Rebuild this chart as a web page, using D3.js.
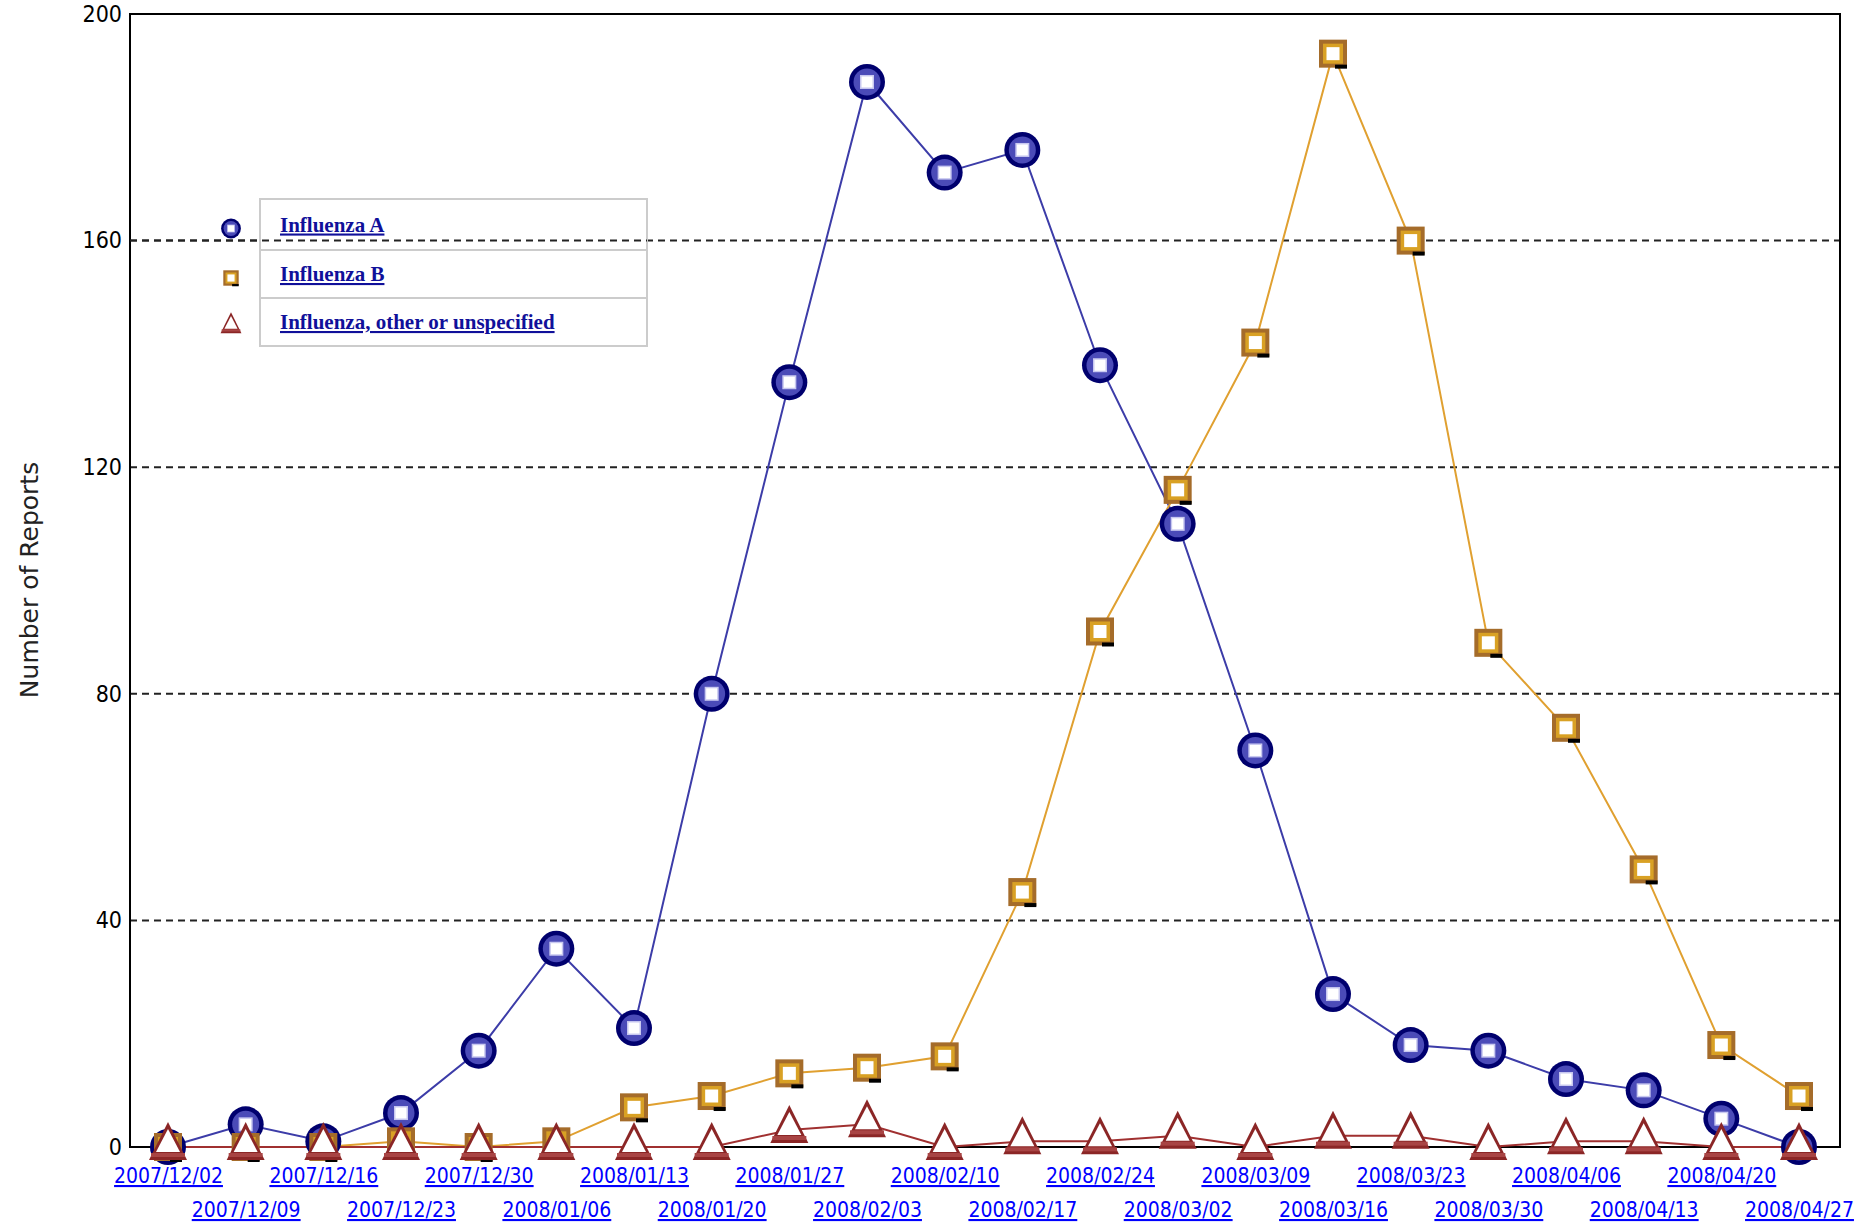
<!DOCTYPE html>
<html>
<head>
<meta charset="utf-8">
<script src="https://cdn.jsdelivr.net/npm/d3@7"></script>
<style>
  body { margin: 0; background: #fff; }
  .tick-y { font-family: "Liberation Sans Narrow", "DejaVu Sans Condensed", "DejaVu Sans", sans-serif; font-size: 23px; fill: #000; }
  .tick-x { font-family: "DejaVu Sans Condensed", "DejaVu Sans", sans-serif; font-size: 21px; fill: #0000ff; text-decoration: underline; }
  .axis-label { font-family: "DejaVu Sans", sans-serif; font-size: 25px; fill: #222; }
  .legend-text { font-family: "Liberation Serif", serif; font-weight: bold; font-size: 21px; fill: #10109a; text-decoration: underline; }
</style>
</head>
<body>
<svg id="chart"></svg>
<script>
const weeks = ['2007/12/02','2007/12/09','2007/12/16','2007/12/23','2007/12/30','2008/01/06','2008/01/13',
  '2008/01/20','2008/01/27','2008/02/03','2008/02/10','2008/02/17','2008/02/24','2008/03/02','2008/03/09',
  '2008/03/16','2008/03/23','2008/03/30','2008/04/06','2008/04/13','2008/04/20','2008/04/27'];

const fluA = [0, 4, 1, 6, 17, 35, 21, 80, 135, 188, 172, 176, 138, 110, 70, 27, 18, 17, 12, 10, 5, 0];
const fluB = [0, 0, 0, 1, 0, 1, 7, 9, 13, 14, 16, 45, 91, 116, 142, 193, 160, 89, 74, 49, 18, 9];
const fluOther = [0, 0, 0, 0, 0, 0, 0, 0, 3, 4, 0, 1, 1, 2, 0, 2, 2, 0, 1, 1, 0, 0];

const seriesNames = ['Influenza A', 'Influenza B', 'Influenza, other or unspecified'];
const yTicks = [0, 40, 80, 120, 160, 200];
const gridTicks = [40, 80, 120, 160];

const W = 1854, H = 1223;
const plot = {left: 130, top: 14, right: 1840, bottom: 1147};

const svg = d3.select('#chart').attr('width', W).attr('height', H);

const x = d3.scalePoint().domain(weeks).range([168, 1799]);
const y = d3.scaleLinear().domain([0, 200]).range([plot.bottom, plot.top]);

// grid lines
svg.append('g')
    .selectAll('line')
    .data(gridTicks)
    .enter()
    .append('line')
    .attr('x1', plot.left)
    .attr('x2', plot.right)
    .attr('y1', d => y(d))
    .attr('y2', d => y(d))
    .attr('stroke', '#222')
    .attr('stroke-width', 2)
    .attr('stroke-dasharray', '7,5');

// frame
svg.append('rect')
    .attr('x', plot.left)
    .attr('y', plot.top)
    .attr('width', plot.right - plot.left)
    .attr('height', plot.bottom - plot.top)
    .attr('fill', 'none')
    .attr('stroke', '#000')
    .attr('stroke-width', 2);

// Y axis ticks
const yAxis = svg.append('g')
    .attr('transform', `translate(${plot.left},0)`)
    .call(d3.axisLeft(y).tickValues(yTicks).tickSize(0).tickPadding(8));
yAxis.select('.domain').remove();
yAxis.selectAll('text').attr('class', 'tick-y').attr('fill', null).attr('font-size', null).attr('font-family', null);

// X axis labels (two alternating rows)
const xAxis = svg.append('g')
    .attr('transform', `translate(0,${plot.bottom})`)
    .call(d3.axisBottom(x).tickSize(0));
xAxis.select('.domain').remove();
xAxis.selectAll('text')
    .attr('class', 'tick-x')
    .attr('fill', null).attr('font-size', null).attr('font-family', null)
    .attr('dy', null)
    .attr('y', (d, i) => i % 2 === 0 ? 36 : 70);

// Y axis label
svg.append('text')
    .attr('class', 'axis-label')
    .attr('text-anchor', 'middle')
    .attr('transform', 'rotate(-90)')
    .attr('x', -580)
    .attr('y', 38)
    .text('Number of Reports');

// markers
function circleMarker(g, s) {
    g.append('circle').attr('r', 18 * s).attr('fill', '#00006e');
    g.append('circle').attr('r', 13.5 * s).attr('fill', '#4b4bb8');
    g.append('rect').attr('x', -7 * s).attr('y', -7 * s).attr('width', 14 * s).attr('height', 14 * s).attr('fill', '#c8c8f0');
    g.append('rect').attr('x', -5.5 * s).attr('y', -5.5 * s).attr('width', 11 * s).attr('height', 11 * s).attr('fill', '#fff');
}
function squareMarker(g, s) {
    g.append('rect').attr('x', -14 * s).attr('y', -14 * s).attr('width', 28 * s).attr('height', 28 * s).attr('fill', '#a56c2a');
    g.append('rect').attr('x', -10 * s).attr('y', -10 * s).attr('width', 20 * s).attr('height', 20 * s).attr('fill', '#d9a124');
    g.append('rect').attr('x', -6.5 * s).attr('y', -6.5 * s).attr('width', 13 * s).attr('height', 13 * s).attr('fill', '#fff');
    g.append('rect').attr('x', 2 * s).attr('y', 11 * s).attr('width', 12 * s).attr('height', 4 * s).attr('fill', '#000');
}
function triangleMarker(g, s) {
    g.append('path').attr('d', `M0,${-25 * s}L${19 * s},${13 * s}L${-19 * s},${13 * s}Z`).attr('fill', '#8b2626');
    g.append('rect').attr('x', -17 * s).attr('y', 6 * s).attr('width', 34 * s).attr('height', 4 * s).attr('fill', '#a84444');
    g.append('path').attr('d', `M0,${-18 * s}L${12 * s},${5 * s}L${-12 * s},${5 * s}Z`).attr('fill', '#fff');
}

const series = [
    {name: seriesNames[0], values: fluA, color: '#3c3ca8', marker: circleMarker},
    {name: seriesNames[1], values: fluB, color: '#e0a030', marker: squareMarker},
    {name: seriesNames[2], values: fluOther, color: '#a03030', marker: triangleMarker}
];

const line = d3.line()
    .x((d, i) => x(weeks[i]))
    .y(d => y(d));

series.forEach(s => {
    svg.append('path')
        .datum(s.values)
        .attr('fill', 'none')
        .attr('stroke', s.color)
        .attr('stroke-width', 2)
        .attr('d', line);
});

series.forEach(s => {
    svg.append('g')
        .selectAll('g')
        .data(s.values)
        .enter()
        .append('g')
        .attr('transform', (d, i) => `translate(${x(weeks[i])},${y(d)})`)
        .each(function() { s.marker(d3.select(this), 1); });
});

// legend
const legend = {left: 260, right: 647, rows: [199, 250, 298, 346]};
const lg = svg.append('g');
lg.append('rect')
    .attr('x', legend.left)
    .attr('y', legend.rows[0])
    .attr('width', legend.right - legend.left)
    .attr('height', legend.rows[3] - legend.rows[0])
    .attr('fill', '#fff')
    .attr('stroke', '#cccccc')
    .attr('stroke-width', 2);
lg.selectAll('line.sep')
    .data([legend.rows[1], legend.rows[2]])
    .enter()
    .append('line')
    .attr('x1', legend.left)
    .attr('x2', legend.right)
    .attr('y1', d => d)
    .attr('y2', d => d)
    .attr('stroke', '#cccccc')
    .attr('stroke-width', 2);

// the 160 gridline runs across the legend
lg.append('line')
    .attr('x1', plot.left)
    .attr('x2', legend.right)
    .attr('y1', y(160))
    .attr('y2', y(160))
    .attr('stroke', '#222')
    .attr('stroke-width', 2)
    .attr('stroke-dasharray', '7,5');

series.forEach((s, i) => {
    const cy = (legend.rows[i] + legend.rows[i + 1]) / 2;
    const mg = lg.append('g').attr('transform', `translate(231,${cy + 4})`);
    s.marker(mg, 0.55);
    lg.append('text')
        .attr('class', 'legend-text')
        .attr('x', 280)
        .attr('y', cy + 7)
        .text(s.name);
});
</script>
</body>
</html>
